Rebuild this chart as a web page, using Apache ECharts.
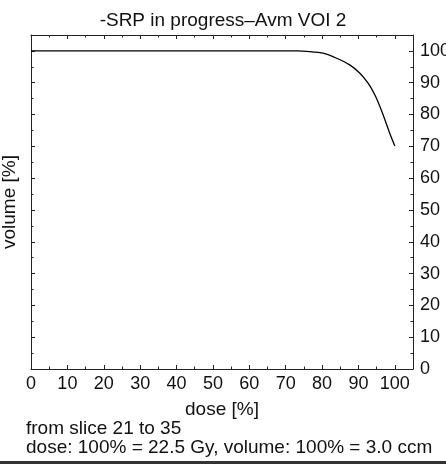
<!DOCTYPE html>
<html><head><meta charset="utf-8">
<script src="https://cdn.jsdelivr.net/npm/echarts@6/dist/echarts.min.js"></script>
<style>html,body{margin:0;padding:0;background:#fff}#c{width:446px;height:465px}</style>
</head><body><div id="c"></div>
<script>
const doseValues = [0, 10, 20, 30, 40, 50, 60, 70, 73, 76.6, 80.3, 84.0, 87.6, 90.4, 92.7, 94.5, 95.9, 97.3, 98.6, 100];
const volumeValues = [100, 100, 100, 100, 100, 100, 100, 100, 100, 99.8, 99.3, 97.7, 95.6, 93.0, 89.8, 86.2, 82.5, 78.3, 74.1, 70.1];
const titleText = '-SRP in progress\u2013Avm VOI 2';
const footer1 = 'from slice 21 to 35';
const footer2 = 'dose: 100% = 22.5 Gy, volume: 100% = 3.0 ccm';

const font = 'Liberation Sans, Arial, Helvetica, sans-serif';
const chart = echarts.init(document.getElementById('c'), null, {renderer: 'canvas'});
const axLine = {show: true, onZero: false, lineStyle: {color: '#222', width: 1}};
const tick = {show: true, inside: true, length: 4, lineStyle: {color: '#222', width: 1}};
const minor = {show: true, splitNumber: 2, length: 2.5, lineStyle: {color: '#222', width: 1}};
const lbl = {color: '#111', fontFamily: font, fontSize: 18, showMaxLabel: false};
chart.setOption({
  animation: false,
  backgroundColor: '#fff',
  title: {text: titleText, left: 'center', top: 6, textStyle: {fontFamily: font, fontSize: 19, fontWeight: 'normal', color: '#111'}},
  grid: {left: 31, right: 33, top: 35, bottom: 96, containLabel: false, outerBoundsMode: 'none'},
  xAxis: [
    {type: 'value', min: 0, max: 105, interval: 10, position: 'bottom', axisLine: axLine, axisTick: tick, minorTick: minor,
     splitLine: {show: false}, axisLabel: Object.assign({margin: 6}, lbl),
     name: 'dose [%]', nameLocation: 'middle', nameGap: 31, nameTextStyle: {fontFamily: font, fontSize: 19, color: '#111'}},
    {type: 'value', min: 0, max: 105, interval: 10, position: 'top', axisLine: axLine, axisTick: tick, minorTick: minor,
     splitLine: {show: false}, axisLabel: {show: false}}
  ],
  yAxis: [
    {type: 'value', min: 0, max: 105, interval: 10, position: 'right', axisLine: axLine, axisTick: tick, minorTick: minor,
     splitLine: {show: false}, axisLabel: Object.assign({margin: 7}, lbl)},
    {type: 'value', min: 0, max: 105, interval: 10, position: 'left', axisLine: axLine, axisTick: tick, minorTick: minor,
     splitLine: {show: false}, axisLabel: {show: false},
     name: 'volume [%]', nameLocation: 'middle', nameGap: 12, nameTextStyle: {fontFamily: font, fontSize: 19, color: '#111'}}
  ],
  series: [{
    type: 'line', xAxisIndex: 0, yAxisIndex: 0, showSymbol: false, smooth: 0.2,
    data: doseValues.map((d, i) => [d, volumeValues[i]]),
    lineStyle: {color: '#000', width: 1.3}
  }],
  graphic: [
    {type: 'text', left: 26, top: 419, style: {text: footer1, font: '19px ' + font, fill: '#111'}},
    {type: 'text', left: 26, top: 438, style: {text: footer2, font: '19px ' + font, fill: '#111'}},
    {type: 'rect', left: 0, top: 461, shape: {width: 446, height: 3}, style: {fill: '#333'}}
  ]
});
</script></body></html>
